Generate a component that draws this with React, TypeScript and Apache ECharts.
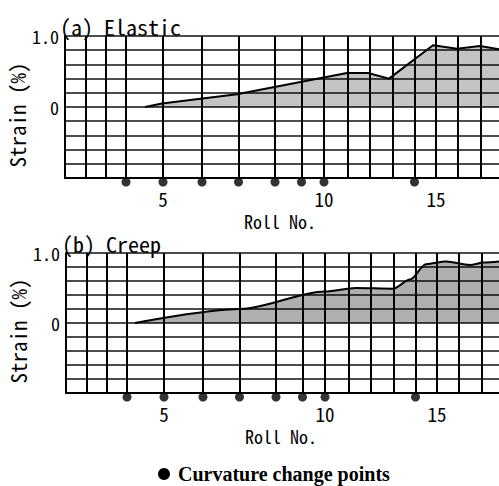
import React, { useEffect, useRef } from "react";
import * as echarts from "echarts";

// Roll numbers and their positions along the line (arbitrary length units)
const rollNos = [1, 2, 3, 4, 5, 6, 7, 8, 9, 10, 11, 12, 13, 14, 15, 16, 17];
const rollPositions = [0, 21, 40.5, 61, 98, 137, 173.5, 210, 236.5, 259, 283, 304.5, 327.5, 349.5, 371, 392.5, 416];
const labelledRolls = [5, 10, 15];
const curvatureRolls = [4, 5, 6, 7, 8, 9, 10, 14];

// (a) Elastic strain (%)
const elasticPos = [80, 97, 172, 282, 303, 324, 368, 392, 415, 440];
const elasticStrain = [0, 0.05, 0.18, 0.48, 0.48, 0.4, 0.87, 0.82, 0.86, 0.8];

// (b) Creep strain (%)
const creepPos = [69, 174, 259, 290, 327, 344, 360, 380, 404, 418, 440];
const creepStrain = [0, 0.2, 0.45, 0.5, 0.49, 0.62, 0.84, 0.88, 0.83, 0.865, 0.89];

const yTicks = { min: -1, max: 1, interval: 0.2 };

const MONO = '"Noto Sans Mono CJK JP", "DejaVu Sans Mono", monospace';

export default function App() {
  const ref = useRef<HTMLDivElement>(null);
  useEffect(() => {
    document.body.style.margin = "0";
    if (!ref.current) return;
    const chart = echarts.init(ref.current, null, { renderer: "svg" });
    const xMax = 440;
    const grids = [
      { left: 65, top: 36, height: 142, width: 440, outerBoundsMode: "none", containLabel: false },
      { left: 66, top: 253, height: 140, width: 440, outerBoundsMode: "none", containLabel: false },
    ];
    const xAxes = grids.map((_, i) => ({
      type: "value",
      gridIndex: i,
      min: 0,
      max: xMax,
      axisLine: { show: true, onZero: false, lineStyle: { color: "#000", width: 2 } },
      axisTick: { show: false },
      splitLine: { show: false },
      axisLabel: {
        customValues: labelledRolls.map((r) => rollPositions[r - 1]),
        formatter: (v: number) => {
          const idx = rollPositions.indexOf(v);
          return idx >= 0 ? String(rollNos[idx]) : "";
        },
        margin: 11,
        fontSize: 19,
        color: "#000",
        fontFamily: MONO,
      },
      name: "Roll No.",
      nameLocation: "middle",
      nameGap: 34,
      nameMoveOverlap: false,
      nameTextStyle: { fontSize: 18, color: "#000", fontFamily: MONO, padding: [0, 10, 0, 0] },
    }));
    const yAxes = grids.map((_, i) => ({
      type: "value",
      gridIndex: i,
      min: yTicks.min,
      max: yTicks.max,
      interval: yTicks.interval,
      axisLine: { show: true, lineStyle: { color: "#000", width: 2 } },
      axisTick: { show: false },
      splitLine: { show: true, lineStyle: { color: "#111", width: 1.5 } },
      axisLabel: {
        formatter: (v: number) => (Math.abs(v - 1) < 1e-6 ? "1.0" : Math.abs(v) < 1e-6 ? "0" : ""),
        margin: 6,
        fontSize: 18,
        color: "#000",
        fontFamily: MONO,
        padding: [6, 0, 0, 0],
      },
      name: "Strain (%)",
      nameLocation: "middle",
      nameRotate: 90,
      nameGap: 38,
      nameMoveOverlap: false,
      nameTextStyle: { fontSize: 21, color: "#000", fontFamily: MONO, padding: [0, 16, 0, 0] },
    }));
    const vLines = rollPositions.slice(1).map((p) => ({ xAxis: p }));
    const mk = {
      silent: true,
      symbol: ["none", "none"],
      label: { show: false },
      lineStyle: { color: "#000", width: 2, type: "solid" },
      data: vLines,
    };
    const dots = curvatureRolls.map((r) => [rollPositions[r - 1], yTicks.min]);
    chart.setOption({
      animation: false,
      grid: grids,
      xAxis: xAxes,
      yAxis: yAxes,
      series: [
        {
          type: "line",
          xAxisIndex: 0,
          yAxisIndex: 0,
          data: elasticPos.map((x, k) => [x, elasticStrain[k]]),
          symbol: "none",
          lineStyle: { color: "#000", width: 2 },
          areaStyle: { color: "rgba(0,0,0,0.33)" },
          markLine: mk,
        },
        {
          type: "line",
          xAxisIndex: 1,
          yAxisIndex: 1,
          data: creepPos.map((x, k) => [x, creepStrain[k]]),
          symbol: "none",
          smooth: 0.3,
          smoothMonotone: "x",
          lineStyle: { color: "#000", width: 2 },
          areaStyle: { color: "rgba(0,0,0,0.45)" },
          markLine: mk,
        },
        {
          type: "scatter",
          xAxisIndex: 0,
          yAxisIndex: 0,
          data: dots,
          symbolSize: 9,
          symbolOffset: [0, 4],
          itemStyle: { color: "#000" },
          clip: false,
          z: 5,
        },
        {
          type: "scatter",
          xAxisIndex: 1,
          yAxisIndex: 1,
          data: dots,
          symbolSize: 9,
          symbolOffset: [0, 4],
          itemStyle: { color: "#000" },
          clip: false,
          z: 5,
        },
      ],
      graphic: [
        { type: "text", left: 60, top: 15, style: { text: "(a) Elastic", font: `22px ${MONO}`, fill: "#000" } },
        { type: "text", left: 62, top: 232, style: { text: "(b) Creep", font: `22px ${MONO}`, fill: "#000" } },
        { type: "circle", shape: { cx: 164, cy: 474, r: 6 }, style: { fill: "#000" } },
        {
          type: "text",
          x: 178,
          y: 474,
          style: {
            text: "Curvature change points",
            font: 'bold 20px "Liberation Serif", serif',
            fill: "#000",
            verticalAlign: "middle",
          },
        },
      ],
    });
    return () => chart.dispose();
  }, []);
  return <div ref={ref} style={{ width: 499, height: 486 }} />;
}
